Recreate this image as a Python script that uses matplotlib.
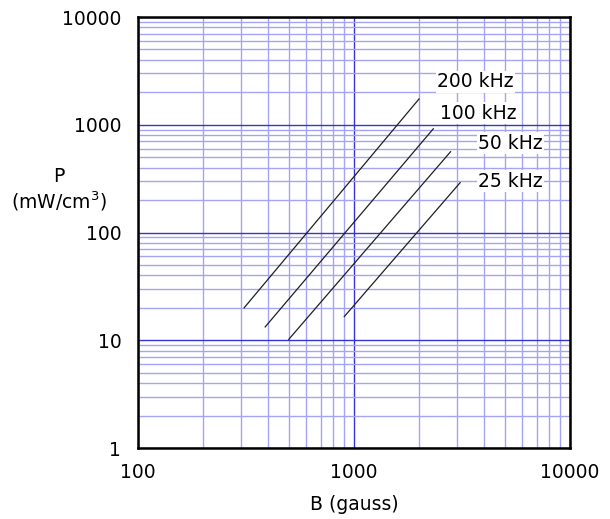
import numpy as np
import matplotlib.pyplot as plt

plt.rcParams['font.family'] = ['DejaVu Sans']

# core loss lines (B in gauss, P in mW/cm3)
freqs = ['200 kHz', '100 kHz', '50 kHz', '25 kHz']
b_start = [310, 388, 499, 902]
b_end = [2000, 2330, 2800, 3100]
p_start = [20, 13.3, 10.2, 16.6]
p_end = [1735, 918, 562, 290]

# label anchor points
lab_b = [2420, 2500, 3750, 3750]
lab_p = [2500, 1285, 676, 300]

fig = plt.figure(figsize=(6.1, 5.19), dpi=100)
ax = fig.add_axes([0.2262, 0.1368, 0.7082, 0.8304])
ax.set_xscale('log')
ax.set_yscale('log')
ax.set_xlim(100, 10000)
ax.set_ylim(1, 10000)

ax.grid(True, which='major', color='#3434d4', lw=1.0)
ax.grid(True, which='minor', color='#a4a4f4', lw=1.0)
ax.set_axisbelow(True)

for i in range(len(freqs)):
    ax.plot([b_start[i], b_end[i]], [p_start[i], p_end[i]], color='#202020', lw=0.9)
    ax.text(lab_b[i], lab_p[i], freqs[i], fontsize=13.5, ha='left', va='center',
            bbox=dict(facecolor='white', edgecolor='none', pad=1.0))

ax.set_xticks([100, 1000, 10000])
ax.set_xticklabels(['100', '1000', '10000'])
ax.set_yticks([1, 10, 100, 1000, 10000])
ax.set_yticklabels(['1', '10', '100', '1000', '10000'])
ax.tick_params(which='both', length=0, labelsize=13.5)
ax.tick_params(axis='x', pad=11)
ax.tick_params(axis='y', pad=12)
for s in ax.spines.values():
    s.set_linewidth(1.8)
    s.set_color('black')

ax.set_xlabel('B (gauss)', fontsize=13.5, labelpad=9)
fig.text(0.097, 0.659, 'P', fontsize=13.5, ha='center', va='center')
fig.text(0.097, 0.612, '(mW/cm$^3$)', fontsize=13.5, ha='center', va='center')

fig.savefig('out.png', dpi=100)
